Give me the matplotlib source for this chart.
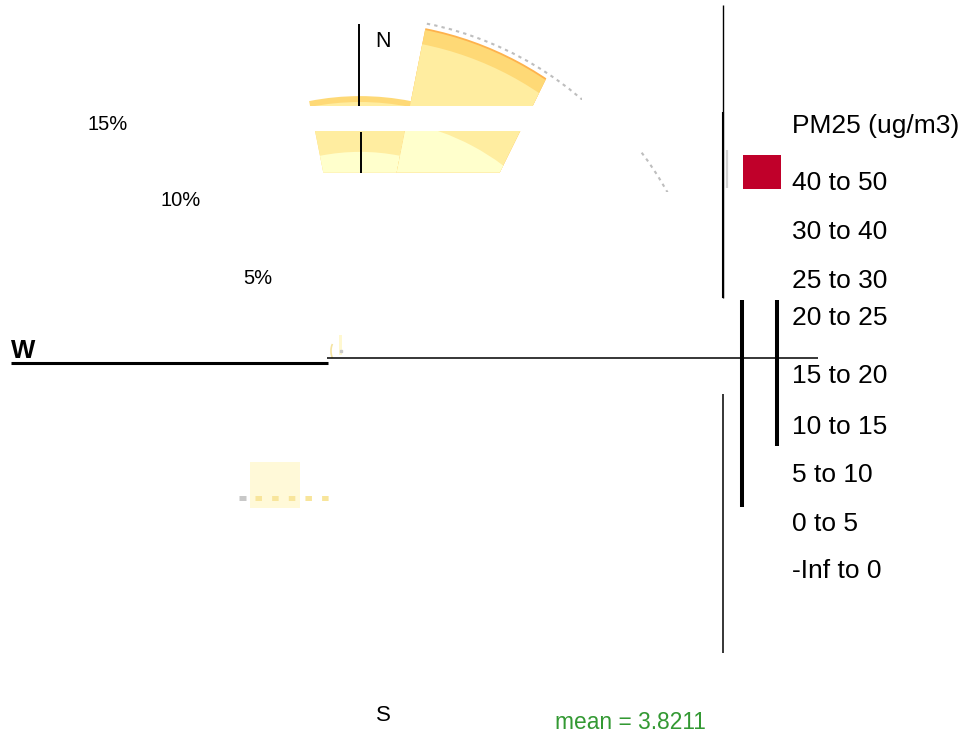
import numpy as np
import matplotlib.pyplot as plt
from matplotlib.patches import Wedge, Circle, Rectangle, Arc, Polygon
from matplotlib.transforms import Affine2D

plt.rcParams['font.family'] = ['Liberation Sans', 'DejaVu Sans']

# pollution rose data (percent of time per PM2.5 bin), only the sectors that show
directions = [0, 22.5]
freq_n = [9.05, 2.20, 0.26, 0, 0, 0, 0, 0, 0]
freq_nne = [10.55, 3.52, 0.64, 0.08, 0, 0, 0, 0, 0]
bin_labels = ['-Inf to 0', '0 to 5', '5 to 10', '10 to 15', '15 to 20',
              '20 to 25', '25 to 30', '30 to 40', '40 to 50']
bin_colors = ['#FFFFCC', '#FFEDA0', '#FED976', '#FEB24C', '#FD8D3C',
              '#FC4E2A', '#E31A1C', '#D20F24', '#C0002A']
grid_pct = 15
pct_labels = ['5%', '10%', '15%']
legend_title = 'PM25 (ug/m3)'
mean_value = 3.8211

fig = plt.figure(figsize=(9.72, 7.41), dpi=100)
ax = fig.add_axes([0, 0, 1, 1])
ax.set_xlim(0, 972)
ax.set_ylim(741, 0)
ax.axis('off')

cx, cy = 360, 357
scale = 340 / grid_pct
rose = Affine2D().scale(scale, -scale).translate(cx, cy) + ax.transData


def clip_box(x0, y0, x1, y1):
    return Rectangle((x0, y0), x1 - x0, y1 - y0, transform=ax.transData)


# the rose only survives in two horizontal strips, cut on the right by a slanted edge
def edge_x(y):
    return 548 + (500 - 548) / (172 - 75) * (y - 75)


bands = [(0, 106), (131, 172.5)]
for k, (d, vals) in enumerate(zip(directions, [freq_n, freq_nne])):
    cum = np.cumsum(vals)
    extra = 11.25 if k == len(directions) - 1 else 0
    for i in reversed(range(len(vals))):
        if vals[i] <= 0:
            continue
        for y0, y1 in bands:
            w = Wedge((0, 0), cum[i], 90 - d - 11.25 - extra, 90 - d + 11.25,
                      facecolor=bin_colors[i], edgecolor='none', transform=rose)
            ax.add_patch(w)
            clip = Polygon([(0, y0), (edge_x(y0), y0), (edge_x(y1), y1), (0, y1)],
                           transform=ax.transData)
            w.set_clip_path(clip)

# grid circle, two pieces
c1 = Circle((0, 0), grid_pct, fill=False, ec='#BEBEBE', lw=1.5,
            ls=(0, (1.6, 2.0)), transform=rose)
ax.add_patch(c1)
c1.set_clip_path(clip_box(423, 0, 582, 100))
rose_b = Affine2D().scale(scale, -scale).translate(cx + 10, cy) + ax.transData
c2 = Circle((0, 0), grid_pct, fill=False, ec='#BEBEBE', lw=1.5,
            ls=(0, (1.6, 2.0)), transform=rose_b)
ax.add_patch(c2)
c2.set_clip_path(clip_box(635, 150, 670, 192))

# axis lines
kw = dict(color='black', solid_capstyle='butt')
ax.plot([359, 359], [24, 106], lw=1.4, **kw)
ax.plot([361, 361], [132, 172.5], lw=1.4, **kw)
ax.plot([11, 328], [363, 363], lw=2.2, **kw)
ax.plot([327, 818], [357.7, 357.7], lw=1.1, **kw)
ax.plot([723, 723], [5, 298], lw=1.0, **kw)
ax.plot([723, 723], [112, 298], lw=1.5, **kw)
ax.plot([726.5, 726.5], [150, 188], color='#D4D4D4', lw=1.6, solid_capstyle='butt')
ax.plot([723, 723], [394, 653], lw=1.1, **kw)
ax.plot([742, 742], [300, 507], lw=2.9, **kw)
ax.plot([777, 777], [300, 446], lw=2.9, **kw)

# stray bits near the centre and lower left
ax.add_patch(Rectangle((250, 462), 50, 46, fc='#FFF9D8', ec='none'))
ax.plot([239, 246], [497.7, 497.7], color='#C8C8C8', lw=3.6, solid_capstyle='butt')
ax.plot([255, 330], [497.7, 497.7], color='#F8E59B', lw=3.6,
        ls=(0, (1.3, 2.03)), dash_capstyle='butt')
ax.add_patch(Rectangle((339, 335), 3, 20, fc='#FFF8D0', ec='none'))
ax.add_patch(Arc((335, 351), 8, 18, theta1=110, theta2=250, color='#F5E3A0', lw=1.2))
ax.plot([341], [351], marker='s', ms=1.5, color='#C8C8C8')

# percent labels
for lab, (tx, ty) in zip(pct_labels, [(258, 284), (181, 206), (108, 130)]):
    ax.text(tx, ty, lab, ha='center', va='baseline', fontsize=14.5)

ax.text(375, 46.7, 'N', ha='left', va='baseline', fontsize=15.5)
ax.text(11, 358, 'W', ha='left', va='baseline', fontsize=18.5, fontweight='bold')
ax.text(383, 721, 'S', ha='center', va='baseline', fontsize=16)
ax.text(555, 729, 'mean = %.4f' % mean_value, ha='left', va='baseline',
        fontsize=16.4, color='#339933')

# legend
ax.text(792, 133, legend_title, ha='left', va='baseline', fontsize=19)
label_base = [190, 239, 288, 325, 383, 434, 482, 531, 578]
for lab, by in zip(bin_labels[::-1], label_base):
    ax.text(792, by, lab, ha='left', va='baseline', fontsize=19)
ax.add_patch(Rectangle((743, label_base[0] - 35), 38, 34, fc=bin_colors[-1], ec='none'))

fig.savefig('out.png', dpi=100)
